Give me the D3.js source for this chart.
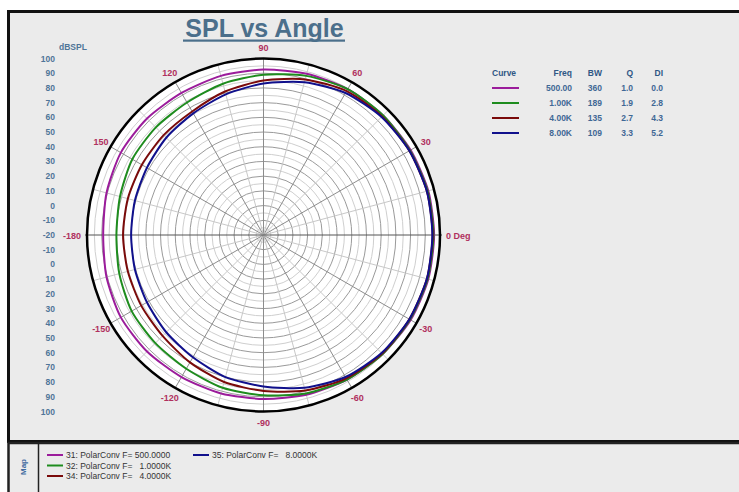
<!DOCTYPE html>
<html>
<head>
<meta charset="utf-8">
<script src="https://cdn.jsdelivr.net/npm/d3@7"></script>
<style>
  html, body { margin: 0; padding: 0; background: #fff; }
  svg { display: block; font-family: "Liberation Sans", Arial, sans-serif; }
</style>
</head>
<body>
<div id="chart"></div>
<script>
// ── Data ──
const angles = [0, 15, 30, 45, 60, 75, 90, 105, 120, 135, 150, 165,
                180, 195, 210, 225, 240, 255, 270, 285, 300, 315, 330, 345];
const spl500 = [96, 96, 95.5, 95, 94.5, 93.5, 92.5, 92, 91.5, 92, 92, 90.5,
                89, 90.5, 92, 92, 91.5, 91.5, 91.5, 92.5, 93.5, 94.5, 95.5, 96];
const spl1k  = [95.5, 95.5, 95, 95, 94.5, 92, 89, 86.5, 84, 83.5, 83, 81,
                80, 81.5, 83.5, 84, 85, 87.5, 89, 91.5, 93.5, 94.5, 95, 95.5];
const spl4k  = [95, 95, 94.5, 94, 93, 89.5, 85, 81, 77, 76, 75.5, 75.5,
                75.5, 75.5, 76, 77, 80, 83.5, 86, 89.5, 92.5, 94, 94.5, 95];
const spl8k  = [94.8, 95, 94.5, 93.5, 91.5, 87.5, 83, 79, 75.5, 73.5, 71.5, 70.5,
                70, 70.5, 71.5, 73.5, 76, 80, 83, 87.5, 91.5, 93.5, 94.5, 95];

const curveColors = ['#9b1c9b', '#1e8c1e', '#7a0a0a', '#10108c'];
const freqLabels = ['500.00', '1.00K', '4.00K', '8.00K'];
const bwValues = ['360', '189', '135', '109'];
const qValues = ['1.0', '1.9', '2.7', '3.3'];
const diValues = ['0.0', '2.8', '4.3', '5.2'];
const mapLabels = ['31: PolarConv F= 500.0000', '32: PolarConv F=   1.0000K',
                   '34: PolarConv F=   4.0000K', '35: PolarConv F=   8.0000K'];

const dbTicksUp = [100, 90, 80, 70, 60, 50, 40, 30, 20, 10, 0, -10];
const dbTicksDown = [-10, 0, 10, 20, 30, 40, 50, 60, 70, 80, 90, 100];
const angleTicks = [0, 30, 60, 90, 120, 150, 180, 210, 240, 270, 300, 330];
const angleTickLabels = ['0 Deg', '30', '60', '90', '120', '150', '-180', '-150', '-120', '-90', '-60', '-30'];

const series = [spl500, spl1k, spl4k, spl8k];

// ── Layout ──
const W = 739, H = 492;
const cx = 263.5, cy = 235, R = 176.5;

const svg = d3.select('#chart').append('svg')
  .attr('width', W).attr('height', H);

// panels
svg.append('rect').attr('x', 8.5).attr('y', 11.5).attr('width', 740).attr('height', 430)
  .attr('fill', '#ebebeb').attr('stroke', '#111').attr('stroke-width', 3);
svg.append('rect').attr('x', 8.5).attr('y', 443).attr('width', 740).attr('height', 60)
  .attr('fill', '#ebebeb').attr('stroke', '#222').attr('stroke-width', 2.5);
svg.append('line').attr('x1', 38.5).attr('x2', 38.5).attr('y1', 443).attr('y2', 492)
  .attr('stroke', '#222').attr('stroke-width', 1.5);

// ── Title ──
svg.append('text').attr('x', cx + 1).attr('y', 37)
  .attr('text-anchor', 'middle').attr('font-size', 25).attr('font-weight', 'bold')
  .attr('fill', '#4b6f8b').text('SPL vs Angle');
svg.append('rect').attr('x', 183).attr('y', 39.5).attr('width', 162).attr('height', 2.2)
  .attr('fill', '#4b6f8b');

// ── Scales ──
const r = d3.scaleLinear().domain([-20, 100]).range([0, R]);
const toRad = d => d * Math.PI / 180;

const g = svg.append('g').attr('transform', 'translate(' + cx + ',' + cy + ')');

g.append('circle').attr('r', R).attr('fill', '#fff');

// rings every 5 dB
d3.range(-15, 100, 5).forEach(function(v) {
  g.append('circle').attr('r', r(v)).attr('fill', 'none')
    .attr('stroke', v % 10 === 0 ? '#9a9a9a' : '#cfcfcf').attr('stroke-width', 1);
});

// spokes every 15 deg
d3.range(0, 360, 15).forEach(function(a) {
  if (a % 180 === 0) return;
  g.append('line')
    .attr('x1', 0).attr('y1', 0)
    .attr('x2', R * Math.cos(toRad(a))).attr('y2', -R * Math.sin(toRad(a)))
    .attr('stroke', a % 30 === 0 ? '#8c8c8c' : '#c8c8c8').attr('stroke-width', 1);
});
g.append('line').attr('x1', -R - 2).attr('x2', R + 2).attr('y1', 0).attr('y2', 0)
  .attr('stroke', '#555').attr('stroke-width', 1);

g.append('circle').attr('r', R).attr('fill', 'none')
  .attr('stroke', '#000').attr('stroke-width', 2.5);

// ── Curves ──
const line = d3.lineRadial()
  .angle(function(d) { return toRad(90 - d[0]); })
  .radius(function(d) { return r(d[1]); })
  .curve(d3.curveCardinalClosed.tension(0.3));

series.forEach(function(vals, i) {
  g.append('path')
    .datum(angles.map(function(a, j) { return [a, vals[j]]; }))
    .attr('d', line)
    .attr('fill', 'none').attr('stroke', curveColors[i]).attr('stroke-width', 2);
});

// ── Angle labels ──
const labR = R + 11;
angleTicks.forEach(function(a, i) {
  const x = labR * Math.cos(toRad(a)), y = -labR * Math.sin(toRad(a));
  let anchor = 'middle', dx = 0;
  if (a === 0) { anchor = 'start'; dx = -5; }
  if (a === 180) { anchor = 'end'; dx = 5; }
  g.append('text').attr('x', x + dx).attr('y', y + 3.5)
    .attr('text-anchor', anchor).attr('font-size', 9).attr('font-weight', 'bold')
    .attr('fill', '#b0305e').text(angleTickLabels[i]);
});

// ── Left dB labels ──
const lab = svg.append('g').attr('font-size', 8.5).attr('font-weight', 'bold')
  .attr('fill', '#4f7598').attr('text-anchor', 'end');
dbTicksUp.forEach(function(v) {
  lab.append('text').attr('x', 55).attr('y', cy - r(v) + 3).text(v);
});
lab.append('text').attr('x', 55).attr('y', cy + 3).text(-20);
dbTicksDown.forEach(function(v) {
  lab.append('text').attr('x', 55).attr('y', cy + r(v) + 3).text(v);
});
svg.append('text').attr('x', 59).attr('y', 50).attr('font-size', 8.5).attr('font-weight', 'bold')
  .attr('fill', '#4f7598').text('dBSPL');

// ── Table legend ──
const tbl = svg.append('g').attr('font-size', 8.5).attr('font-weight', 'bold');
const hdrY = 76, rowY = [91, 106, 121, 136];
const hdrCol = '#2f5785', valCol = '#3f6895';
tbl.append('text').attr('x', 492).attr('y', hdrY).attr('fill', hdrCol).text('Curve');
[['Freq', 572], ['BW', 602], ['Q', 633], ['DI', 663]].forEach(function(h) {
  tbl.append('text').attr('x', h[1]).attr('y', hdrY).attr('text-anchor', 'end')
    .attr('fill', hdrCol).text(h[0]);
});
rowY.forEach(function(y, i) {
  tbl.append('line').attr('x1', 492).attr('x2', 519).attr('y1', y - 3).attr('y2', y - 3)
    .attr('stroke', curveColors[i]).attr('stroke-width', 2);
  [[freqLabels[i], 572], [bwValues[i], 602], [qValues[i], 633], [diValues[i], 663]].forEach(function(c) {
    tbl.append('text').attr('x', c[1]).attr('y', y).attr('text-anchor', 'end')
      .attr('fill', valCol).text(c[0]);
  });
});

// ── Bottom map legend ──
svg.append('text').attr('transform', 'translate(26,467) rotate(-90)')
  .attr('text-anchor', 'middle').attr('font-size', 8).attr('font-weight', 'bold')
  .attr('fill', '#3f6aa0').text('Map');
const mapPos = [[47, 458], [47, 468.5], [47, 479], [193, 458]];
mapPos.forEach(function(p, i) {
  svg.append('line').attr('x1', p[0]).attr('x2', p[0] + 16).attr('y1', p[1] - 3).attr('y2', p[1] - 3)
    .attr('stroke', curveColors[i]).attr('stroke-width', 2);
  svg.append('text').attr('x', p[0] + 19).attr('y', p[1]).attr('font-size', 8.5)
    .attr('fill', '#333').attr('xml:space', 'preserve').style('white-space', 'pre')
    .text(mapLabels[i]);
});
</script>
</body>
</html>
